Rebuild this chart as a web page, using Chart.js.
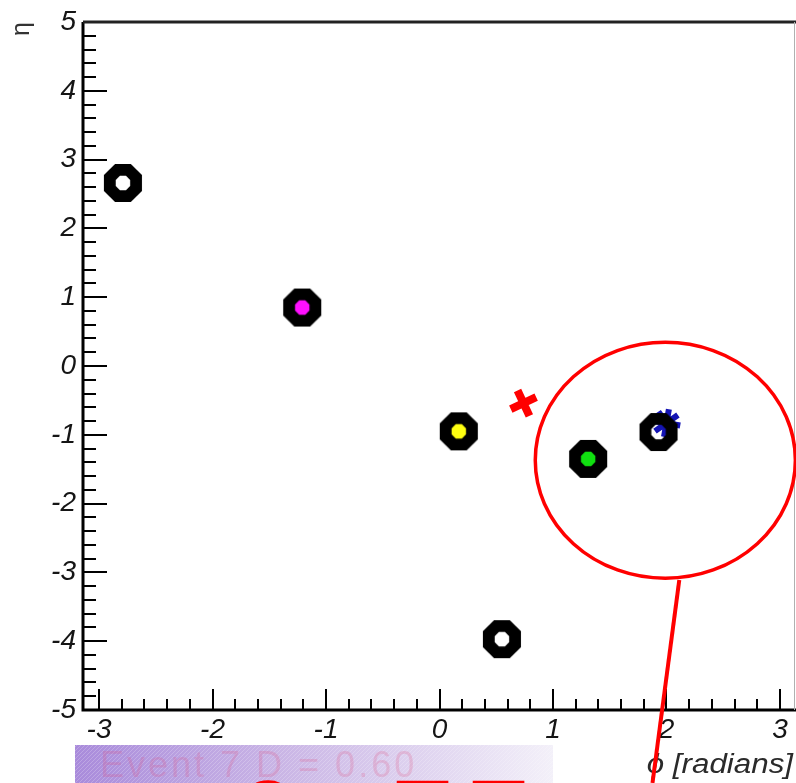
<!DOCTYPE html>
<html>
<head>
<meta charset="utf-8">
<script src="https://cdn.jsdelivr.net/npm/chart.js@4/dist/chart.umd.min.js"></script>
<style>
  html, body { margin: 0; padding: 0; background: #ffffff; }
  canvas { display: block; }
</style>
</head>
<body>
<canvas id="c" width="796" height="783"></canvas>
<script>
// Reconstructed objects in the eta-phi plane
const objectPhi  = [-2.79, -1.21, 0.17, 1.31, 1.93, 0.55];
const objectEta  = [ 2.66,  0.85, -0.95, -1.35, -0.96, -3.97];
const objectCore = [null, '#ff10ff', '#ffff10', '#10e010', null, null];

// Small markers (red and blue)
const markerPhi    = [0.74, 2.00];
const markerEta    = [-0.54, -0.83];
const markerColour = ['#ff0000', '#1414b4'];

// Axis ticks and titles
const xTickValues = [-3, -2, -1, 0, 1, 2, 3];
const yTickValues = [5, 4, 3, 2, 1, 0, -1, -2, -3, -4, -5];
const minorStep = 0.2;
const xTitle = 'ϕ [radians]';
const yTitle = 'η';

// Highlighted region and its pointer (in phi / eta units)
const regionCentre = [1.99, -1.37];
const regionHalfAxes = [1.146, 1.715];
const pointerPhi = [2.113, 1.877];
const pointerEta = [-3.11, -6.06];

// Caption strip under the axis
const captionText = 'Event 7 D = 0.60';
const bigGlyphs = ['E', '0', '7', '7'];

const FONT = '"Liberation Sans", Arial, Helvetica, sans-serif';

// ROOT-like octagonal ring marker, optionally with a coloured core
function ringImage(core) {
  const size = 46, R = 20.6, r = 7.8, c = size / 2;
  const cv = document.createElement('canvas');
  cv.width = cv.height = size;
  const g = cv.getContext('2d');
  const oct = (rad) => {
    g.beginPath();
    for (let k = 0; k < 8; k++) {
      const a = Math.PI / 8 + k * Math.PI / 4;
      g.lineTo(c + rad * Math.cos(a), c + rad * Math.sin(a));
    }
    g.closePath();
  };
  g.fillStyle = '#000';
  oct(R); g.fill();
  if (core) {
    g.fillStyle = core;
  } else {
    g.globalCompositeOperation = 'destination-out';
    g.fillStyle = '#000';
  }
  oct(r); g.fill();
  return cv;
}

const objectPoints = objectPhi.map((p, i) => ({ x: p, y: objectEta[i] }));
const markerPoints = markerPhi.map((p, i) => ({ x: p, y: markerEta[i] }));

// Frame, inward ticks (major + minor)
const framePlugin = {
  id: 'frame',
  beforeDatasetsDraw(chart) {
    const { ctx, chartArea: a, scales: { x, y } } = chart;
    ctx.save();
    ctx.strokeStyle = '#000';
    ctx.lineCap = 'butt';

    ctx.lineWidth = 2;
    const xmin = x.min, xmax = x.max;
    for (let v = Math.ceil(xmin / minorStep) * minorStep; v <= xmax + 1e-9; v += minorStep) {
      const isMajor = Math.abs(v - Math.round(v)) < 1e-6;
      const px = Math.round(x.getPixelForValue(v));
      ctx.beginPath();
      ctx.moveTo(px, a.bottom);
      ctx.lineTo(px, a.bottom - (isMajor ? 21 : 11));
      ctx.stroke();
    }
    for (let v = -5; v <= 5 + 1e-9; v += minorStep) {
      const isMajor = Math.abs(v - Math.round(v)) < 1e-6;
      const py = Math.round(y.getPixelForValue(v));
      ctx.beginPath();
      ctx.moveTo(a.left, py);
      ctx.lineTo(a.left + (isMajor ? 24 : 13), py);
      ctx.stroke();
    }

    ctx.lineWidth = 3;
    ctx.beginPath();
    ctx.moveTo(a.left, a.top);
    ctx.lineTo(a.left, a.bottom);
    ctx.lineTo(a.right, a.bottom);
    ctx.stroke();
    ctx.strokeStyle = '#222';
    ctx.beginPath();
    ctx.moveTo(a.left, a.top);
    ctx.lineTo(a.right, a.top);
    ctx.stroke();
    ctx.strokeStyle = '#b0b0b0';
    ctx.lineWidth = 1;
    ctx.beginPath();
    ctx.moveTo(a.right - 1.5, a.top);
    ctx.lineTo(a.right - 1.5, a.bottom);
    ctx.stroke();

    // x-axis title, right-aligned under the axis, slightly wide lettering
    ctx.fillStyle = '#2a2a2a';
    ctx.font = 'italic 27px ' + FONT;
    ctx.textAlign = 'right';
    ctx.textBaseline = 'alphabetic';
    ctx.translate(a.right - 3, 773);
    ctx.scale(1.16, 1);
    ctx.fillText(xTitle, 0, 0);
    ctx.restore();
  }
};

// Highlight ellipse, pointer line and caption strip
const overlayPlugin = {
  id: 'overlay',
  afterDraw(chart) {
    const { ctx, scales: { x, y } } = chart;
    ctx.save();

    // caption strip
    const sx0 = 75, sx1 = 553, sy0 = 745, sy1 = 783;
    const grad = ctx.createLinearGradient(sx0, 0, sx1, 0);
    grad.addColorStop(0, '#a98bdb');
    grad.addColorStop(0.45, '#cbb7e6');
    grad.addColorStop(1, '#f3f0f9');
    ctx.fillStyle = grad;
    ctx.fillRect(sx0, sy0, sx1 - sx0, sy1 - sy0);
    ctx.save();
    ctx.beginPath();
    ctx.rect(sx0, sy0, sx1 - sx0, sy1 - sy0);
    ctx.clip();
    ctx.strokeStyle = 'rgba(255,255,255,0.22)';
    ctx.lineWidth = 1;
    for (let k = sx0 - 60; k < sx1 + 60; k += 4) {
      ctx.beginPath();
      ctx.moveTo(k, sy1);
      ctx.lineTo(k + (sy1 - sy0), sy0);
      ctx.stroke();
    }
    ctx.font = '36px ' + FONT;
    ctx.letterSpacing = '3px';
    ctx.fillStyle = 'rgba(225,70,120,0.2)';
    ctx.textBaseline = 'alphabetic';
    ctx.textAlign = 'left';
    ctx.fillText(captionText, 100, 777);
    ctx.restore();

    // large red caption glyphs, only their tops fit in the view
    ctx.letterSpacing = '0px';
    ctx.font = 'bold 110px ' + FONT;
    ctx.fillStyle = '#ff0000';
    ctx.textBaseline = 'alphabetic';
    ctx.textAlign = 'left';
    ctx.fillText(bigGlyphs[0], 72, 859);
    ctx.textAlign = 'center';
    ctx.fillText(bigGlyphs[1], 268, 857);
    ctx.textAlign = 'left';
    ctx.fillText(bigGlyphs[2], 392, 856);
    ctx.fillText(bigGlyphs[3], 468, 856);

    // highlight ellipse
    const cx = x.getPixelForValue(regionCentre[0]);
    const cy = y.getPixelForValue(regionCentre[1]);
    const rx = Math.abs(x.getPixelForValue(regionCentre[0] + regionHalfAxes[0]) - cx);
    const ry = Math.abs(y.getPixelForValue(regionCentre[1] + regionHalfAxes[1]) - cy);
    ctx.strokeStyle = '#ff0000';
    ctx.lineWidth = 3.5;
    ctx.beginPath();
    ctx.ellipse(cx, cy, rx, ry, 0, 0, Math.PI * 2);
    ctx.stroke();

    // pointer line
    ctx.lineWidth = 4;
    ctx.beginPath();
    ctx.moveTo(x.getPixelForValue(pointerPhi[0]), y.getPixelForValue(pointerEta[0]));
    ctx.lineTo(x.getPixelForValue(pointerPhi[1]), y.getPixelForValue(pointerEta[1]));
    ctx.stroke();
    ctx.restore();
  }
};

const tickFont = { family: FONT, size: 28, style: 'italic', lineHeight: 1 };

function noPad(s) {
  s.paddingLeft = 0; s.paddingRight = 0; s.paddingTop = 0; s.paddingBottom = 0;
}

new Chart(document.getElementById('c'), {
  type: 'scatter',
  data: {
    datasets: [
      {
        label: 'objects',
        data: objectPoints,
        pointStyle: objectCore.map(ringImage),
        pointRadius: 20,
        pointHoverRadius: 20
      },
      {
        label: 'markers',
        data: markerPoints,
        pointStyle: ['crossRot', 'star'],
        pointRadius: [14, 14],
        pointBorderWidth: [8, 6],
        pointRotation: [20, 10],
        borderColor: markerColour,
        backgroundColor: markerColour
      }
    ]
  },
  options: {
    responsive: false,
    animation: false,
    events: [],
    layout: { autoPadding: false, padding: { top: 22, right: 0, left: 0, bottom: 0 } },
    plugins: { legend: { display: false }, tooltip: { enabled: false } },
    scales: {
      x: {
        type: 'linear',
        min: -Math.PI,
        max: Math.PI,
        afterBuildTicks: (s) => { s.ticks = xTickValues.map(v => ({ value: v })); },
        afterFit: (s) => { s.height = 73; noPad(s); },
        grid: { display: false, drawTicks: false },
        border: { display: false },
        ticks: {
          font: tickFont,
          color: '#151515',
          padding: 6,
          maxRotation: 0,
          autoSkip: false,
          callback: (v) => String(v)
        },
        title: { display: false }
      },
      y: {
        type: 'linear',
        min: -5,
        max: 5,
        afterBuildTicks: (s) => { s.ticks = yTickValues.map(v => ({ value: v })); },
        afterFit: (s) => { s.width = 83; noPad(s); },
        grid: { display: false, drawTicks: false },
        border: { display: false },
        ticks: {
          font: tickFont,
          color: '#151515',
          padding: 7,
          autoSkip: false,
          callback: (v) => String(v)
        },
        title: {
          display: true,
          text: yTitle,
          align: 'end',
          color: '#333',
          font: { family: FONT, size: 25, lineHeight: 1 },
          padding: { top: 10, bottom: 0 }
        }
      }
    }
  },
  plugins: [framePlugin, overlayPlugin]
});
</script>
</body>
</html>
